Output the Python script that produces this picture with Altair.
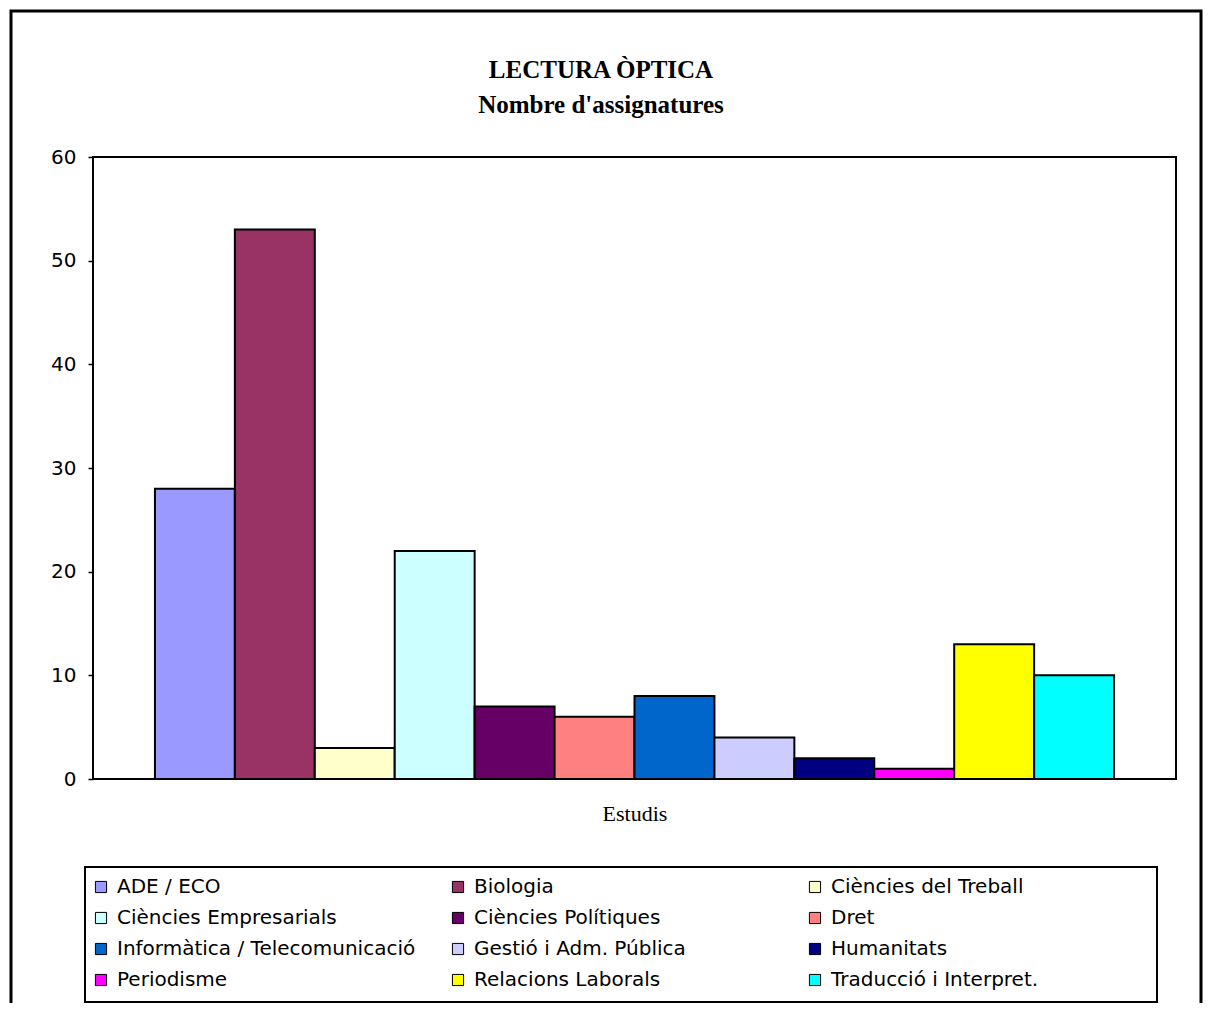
import altair as alt
import pandas as pd

series = ["ADE / ECO", "Biologia", "Ciències del Treball", "Ciències Empresarials",
          "Ciències Polítiques", "Dret", "Informàtica / Telecomunicació",
          "Gestió i Adm. Pública", "Humanitats", "Periodisme",
          "Relacions Laborals", "Traducció i Interpret."]
values = [28, 53, 3, 22, 7, 6, 8, 4, 2, 1, 13, 10]
colors = ["#9999FF", "#993366", "#FFFFCC", "#CCFFFF", "#660066", "#FF8080",
          "#0066CC", "#CCCCFF", "#000080", "#FF00FF", "#FFFF00", "#00FFFF"]
y_ticks = [0, 10, 20, 30, 40, 50, 60]
title_lines = ["LECTURA ÒPTICA", "Nombre d'assignatures"]
x_title = "Estudis"

df = pd.DataFrame({"Estudi": series, "Valor": values})

bars = alt.Chart(df).mark_bar(stroke="black", strokeWidth=2).encode(
    x=alt.X("Estudi:N", sort=series,
            scale=alt.Scale(domain=series, paddingInner=0, paddingOuter=0.775),
            axis=alt.Axis(labels=False, ticks=False, domain=False, title=x_title,
                          titleFont="Liberation Serif", titleFontSize=22,
                          titleFontWeight="normal", titleColor="black",
                          titlePadding=24)),
    y=alt.Y("Valor:Q", scale=alt.Scale(domain=[0, 60]),
            axis=alt.Axis(values=y_ticks, grid=False, title=None, domain=False,
                          tickColor="black", tickSize=5, tickWidth=1.5,
                          labelFont="DejaVu Sans", labelFontSize=20,
                          labelColor="black", labelPadding=12)),
    color=alt.Color("Estudi:N",
                    scale=alt.Scale(domain=series, range=colors),
                    legend=alt.Legend(title=None, orient="none", legendX=-12, legendY=710,
                                      direction="horizontal",
                                      columns=3, gridAlign="all", columnPadding=32,
                                      rowPadding=11, symbolType="square", symbolSize=125,
                                      symbolStrokeColor="black", symbolStrokeWidth=1,
                                      labelFont="DejaVu Sans", labelFontSize=20,
                                      labelColor="black", labelOffset=6, labelLimit=500,
                                      padding=10)),
)

frame = alt.Chart(pd.DataFrame({"f": [0]})).mark_rect(
    fill="transparent", stroke="black", strokeWidth=3
).encode(x=alt.value(-82), x2=alt.value(1108), y=alt.value(-146), y2=alt.value(900))

legend_box = alt.Chart(pd.DataFrame({"f": [0]})).mark_rect(
    fill="transparent", stroke="black", strokeWidth=2
).encode(x=alt.value(-8), x2=alt.value(1064), y=alt.value(710), y2=alt.value(845))

t1 = alt.Chart(pd.DataFrame({"t": [title_lines[0]]})).mark_text(
    font="Liberation Serif", fontSize=25, fontWeight="bold", color="black",
    align="center", baseline="middle"
).encode(x=alt.value(508), y=alt.value(-87), text="t:N")

t2 = alt.Chart(pd.DataFrame({"t": [title_lines[1]]})).mark_text(
    font="Liberation Serif", fontSize=25, fontWeight="bold", color="black",
    align="center", baseline="middle"
).encode(x=alt.value(508), y=alt.value(-52), text="t:N")

chart = alt.layer(frame, legend_box, bars, t1, t2).properties(
    width=1083, height=622,
    autosize=alt.AutoSizeParams(type="none"),
    padding={"left": 85, "top": 149, "right": 27, "bottom": 224},
    background="white",
).configure_view(stroke="black", strokeWidth=2)

chart.save("out.html", embed_options={"renderer": "svg", "actions": False})
